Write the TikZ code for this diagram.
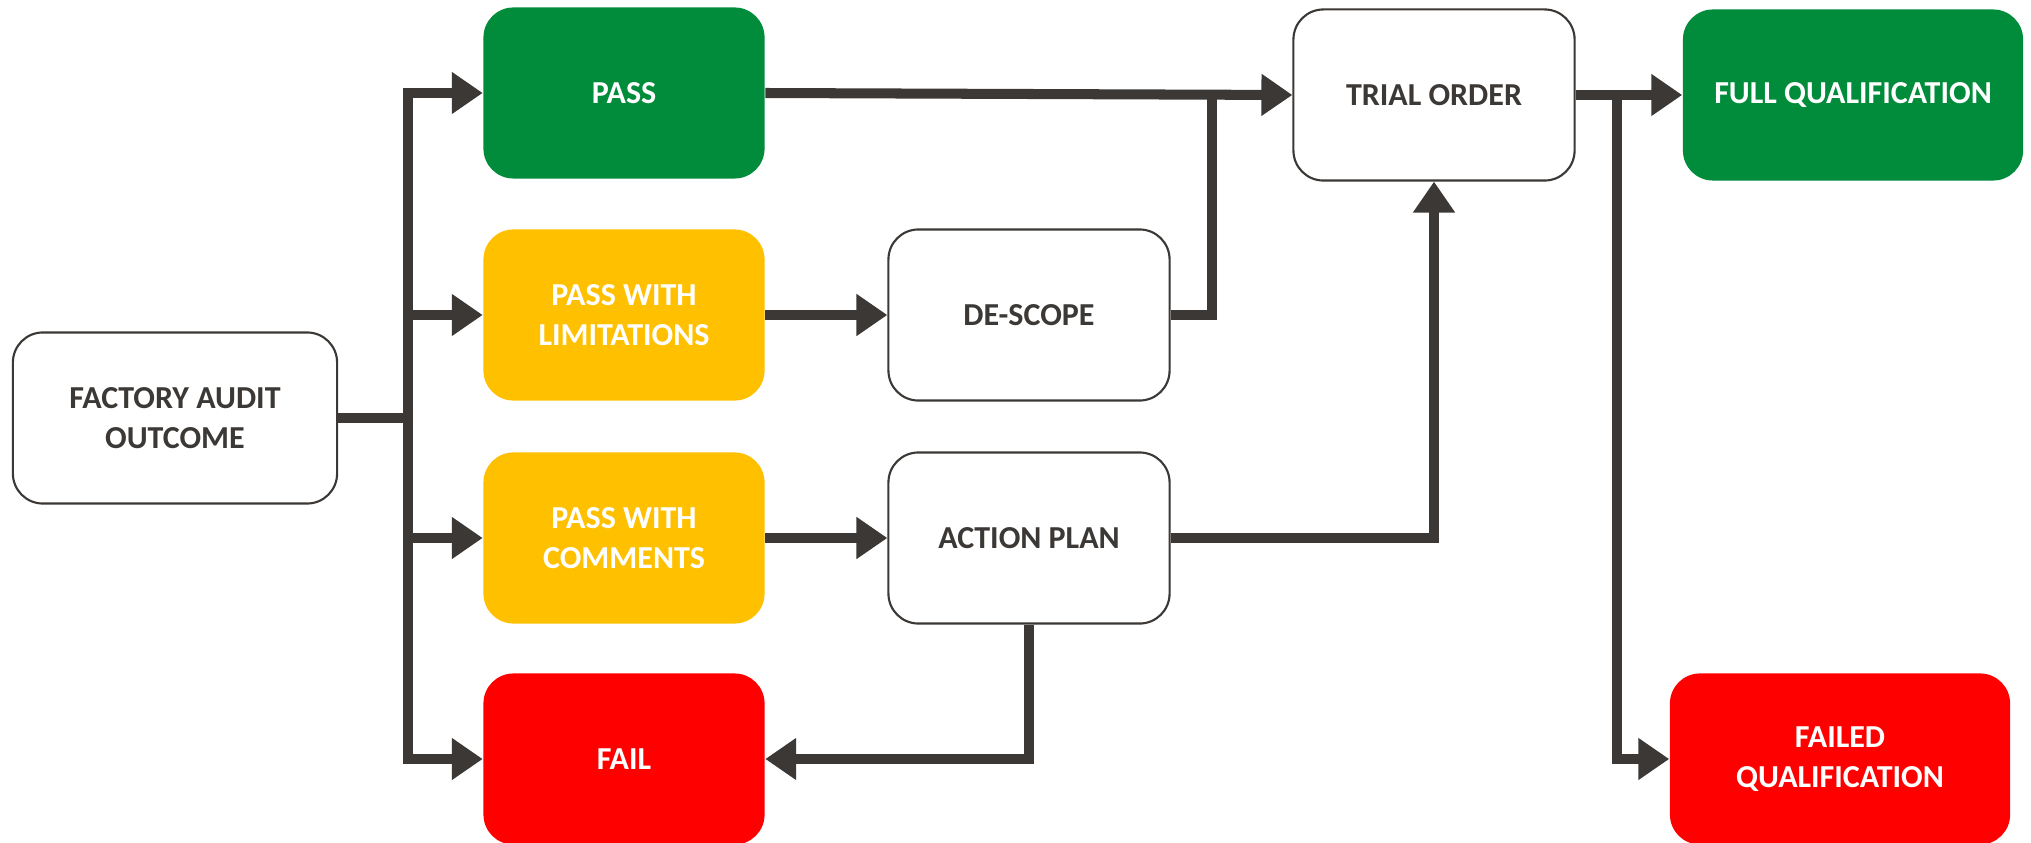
\documentclass[tikz,border=0pt]{standalone}
\usepackage{fontspec}
\setmainfont{Carlito}
\usetikzlibrary{arrows.meta}
\definecolor{ink}{HTML}{3B3835}
\definecolor{okgreen}{HTML}{008C3A}
\definecolor{warnyellow}{HTML}{FFC000}
\definecolor{badred}{HTML}{FF0000}
\begin{document}
\begin{tikzpicture}[x=0.01cm,y=-0.01cm,
  box/.style={rounded corners=0.3cm, minimum width=2.81cm, minimum height=1.71cm,
    font=\bfseries\fontsize{9.1}{11.4}\selectfont, align=center, inner sep=0pt},
  wbox/.style={box, draw=ink, line width=0.6pt, fill=white, text=ink},
  gbox/.style={box, fill=okgreen, text=white},
  ybox/.style={box, fill=warnyellow, text=white},
  rbox/.style={box, fill=badred, text=white},
  conn/.style={draw=ink, line width=2.85pt},
  trunk/.style={conn, line cap=rect},
  arr/.style={conn, -{Triangle[length=8.8pt,width=11.4pt]}}]
\useasboundingbox (0,0) rectangle (2031,843);

\node[wbox, minimum width=3.24cm] (fa) at (175,418) {FACTORY AUDIT\\OUTCOME};
\node[gbox] (pass) at (624,93) {PASS};
\node[ybox] (pwl) at (624,315) {PASS WITH\\LIMITATIONS};
\node[ybox] (pwc) at (624,538) {PASS WITH\\COMMENTS};
\node[rbox] (fail) at (624,759) {FAIL};
\node[wbox] (ds) at (1029,315) {DE-SCOPE};
\node[wbox] (ap) at (1029,538) {ACTION PLAN};
\node[wbox] (trial) at (1434,95) {TRIAL ORDER};
\node[gbox, minimum width=3.40cm] (full) at (1853,95) {FULL QUALIFICATION};
\node[rbox, minimum width=3.40cm] (fq) at (1840,759) {FAILED\\QUALIFICATION};

\coordinate (tk) at (408,418);
\coordinate (j1) at (1212,94);
\coordinate (j2) at (1617,95);

% left trunk
\draw[trunk] (tk |- pass.west) -- (tk |- fail.west);
\draw[conn] (fa.east) -- (tk);
\draw[arr] (tk |- pass.west) -- (pass.west);
\draw[arr] (tk |- pwl.west) -- (pwl.west);
\draw[arr] (tk |- pwc.west) -- (pwc.west);
\draw[arr] (tk |- fail.west) -- (fail.west);

% middle
\draw[arr] (pwl.east) -- (ds.west);
\draw[arr] (pwc.east) -- (ap.west);
\draw[arr] (pass.east) -- (trial.west);
\draw[conn] (ds.east) -| (j1);
\draw[arr] (ap.east) -| (trial.south);
\draw[arr] (ap.south) |- (fail.east);

% right
\draw[arr] (trial.east) -- (full.west);
\draw[arr] (j2) |- (fq.west);
\end{tikzpicture}
\end{document}
